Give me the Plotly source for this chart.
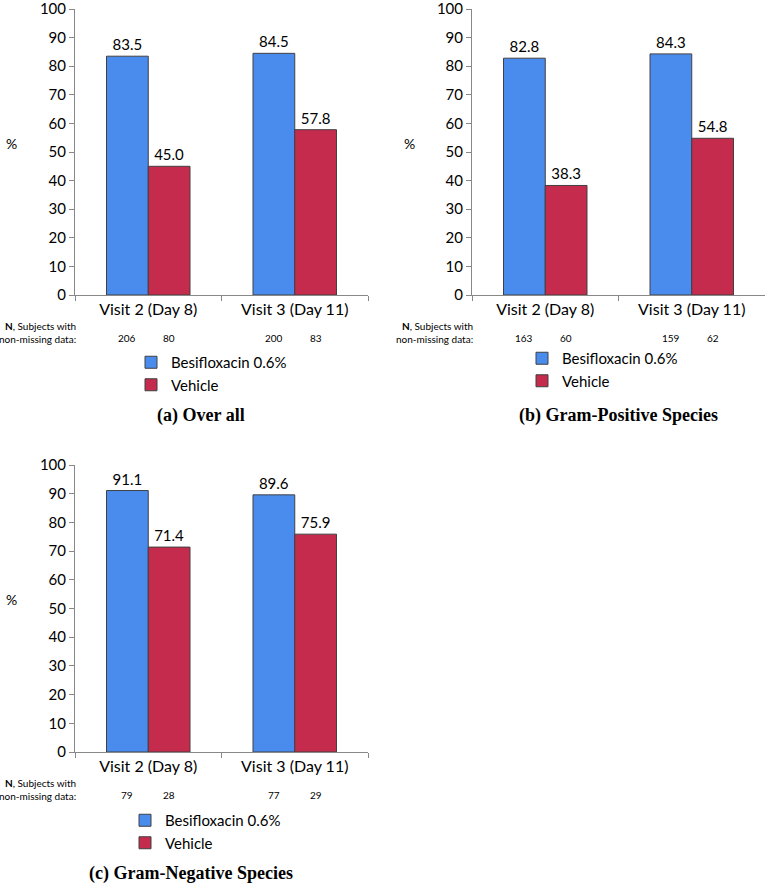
import plotly.graph_objects as go

categories = ["Visit 2 (Day 8)", "Visit 3 (Day 11)"]
series_names = ["Besifloxacin 0.6%", "Vehicle"]
panel_titles = ["(a) Over all", "(b) Gram-Positive Species", "(c) Gram-Negative Species"]

besi_a = [83.5, 84.5]
veh_a = [45.0, 57.8]
besi_b = [82.8, 84.3]
veh_b = [38.3, 54.8]
besi_c = [91.1, 89.6]
veh_c = [71.4, 75.9]

n_besi_a = [206, 200]
n_veh_a = [80, 83]
n_besi_b = [163, 159]
n_veh_b = [60, 62]
n_besi_c = [79, 77]
n_veh_c = [28, 29]

y_ticks = [0, 10, 20, 30, 40, 50, 60, 70, 80, 90, 100]

W, H = 767, 884
BLUE = "#4A8CEE"
RED = "#C52B4D"
FONT = "Lato, Open Sans, sans-serif"
SERIF = "Liberation Serif, DejaVu Serif, serif"
BARGAP = 0.43

def px_x(p):
    return p / W

def px_y(p):
    return 1 - p / H

panels = [
    dict(besi=besi_a, veh=veh_a, nb=n_besi_a, nv=n_veh_a,
         xd=[px_x(75), px_x(368)], yd=[px_y(295), px_y(9)], leg_x=px_x(131), leg_y=px_y(346),
         title_x=px_x(201), title_y=px_y(415)),
    dict(besi=besi_b, veh=veh_b, nb=n_besi_b, nv=n_veh_b,
         xd=[px_x(472), px_x(765)], yd=[px_y(295), px_y(9)], leg_x=px_x(522), leg_y=px_y(342),
         title_x=px_x(618), title_y=px_y(415)),
    dict(besi=besi_c, veh=veh_c, nb=n_besi_c, nv=n_veh_c,
         xd=[px_x(75), px_x(368)], yd=[px_y(752), px_y(465)], leg_x=px_x(125), leg_y=px_y(804),
         title_x=px_x(191), title_y=px_y(873)),
]

fig = go.Figure()
annotations = []
layout = {}

for i, p in enumerate(panels):
    k = "" if i == 0 else str(i + 1)
    xa, ya = "x" + k, "y" + k
    leg = "legend" + k
    for name, vals, col in [(series_names[0], p["besi"], BLUE), (series_names[1], p["veh"], RED)]:
        fig.add_trace(go.Bar(
            x=categories, y=vals, name=name, xaxis=xa, yaxis=ya, legend=leg,
            marker=dict(color=col, line=dict(color="#404040", width=1)),
            text=[f"{v:.1f}" for v in vals], textposition="outside",
            textfont=dict(family=FONT, size=15, color="black"),
            cliponaxis=False,
        ))
    layout["xaxis" + k] = dict(
        domain=p["xd"], anchor=ya, type="category", showgrid=False, automargin=False,
        showline=True, linecolor="#888888", linewidth=1,
        ticks="outside", ticklen=5, tickcolor="#888888", tickson="boundaries",
        tickfont=dict(family=FONT, size=16, color="black"), fixedrange=True,
    )
    layout["yaxis" + k] = dict(
        domain=p["yd"], anchor=xa, range=[0, 100], tickvals=y_ticks, showgrid=False,
        automargin=False, ticklabeloverflow="allow",
        showline=True, linecolor="#888888", linewidth=1, zeroline=False,
        ticks="outside", ticklen=5, tickcolor="#888888",
        tickfont=dict(family=FONT, size=15, color="black"),
    )
    layout[leg] = dict(
        x=p["leg_x"], y=p["leg_y"], xanchor="left", yanchor="top",
        orientation="v", font=dict(family=FONT, size=15, color="black"),
        bgcolor="rgba(0,0,0,0)", itemwidth=30,
    )
    # % label
    annotations.append(dict(
        text="%", x=p["xd"][0] - px_x(63), y=p["yd"][0] + (p["yd"][1] - p["yd"][0]) * 0.53,
        xref="paper", yref="paper", xanchor="center", yanchor="middle", showarrow=False,
        font=dict(family=FONT, size=14, color="black"),
    ))
    # N label
    y_axis_px = (1 - p["yd"][0]) * H
    annotations.append(dict(
        text="<b>N</b>, Subjects with<br>non-missing data:",
        x=p["xd"][0] + px_x(3), y=1 - (y_axis_px + 37) / H,
        xref="paper", yref="paper", xanchor="right", yanchor="middle", align="right",
        showarrow=False, font=dict(family=FONT, size=10, color="black"),
    ))
    half = (1 - BARGAP) / 4
    for ci in range(len(categories)):
        for off, nvals in [(-half, p["nb"]), (half, p["nv"])]:
            annotations.append(dict(
                text=str(nvals[ci]), x=ci + off, xref=xa,
                y=1 - (y_axis_px + 43) / H, yref="paper",
                xanchor="center", yanchor="middle",
                showarrow=False, font=dict(family=FONT, size=10, color="black"),
            ))
    # panel title
    annotations.append(dict(
        text="<b>" + panel_titles[i] + "</b>", x=p["title_x"], y=p["title_y"],
        xref="paper", yref="paper", xanchor="center", yanchor="middle", showarrow=False,
        font=dict(family=SERIF, size=18, color="black"),
    ))

fig.update_layout(
    width=W, height=H, margin=dict(l=0, r=0, t=0, b=0, autoexpand=False),
    paper_bgcolor="white", plot_bgcolor="white",
    barmode="group", bargap=BARGAP, bargroupgap=0,
    showlegend=True, annotations=annotations, **layout,
)

fig.write_html(
    "out.html",
    config={"displayModeBar": False},
    post_script="document.body.style.margin='0px';document.body.style.overflow='hidden';",
)
